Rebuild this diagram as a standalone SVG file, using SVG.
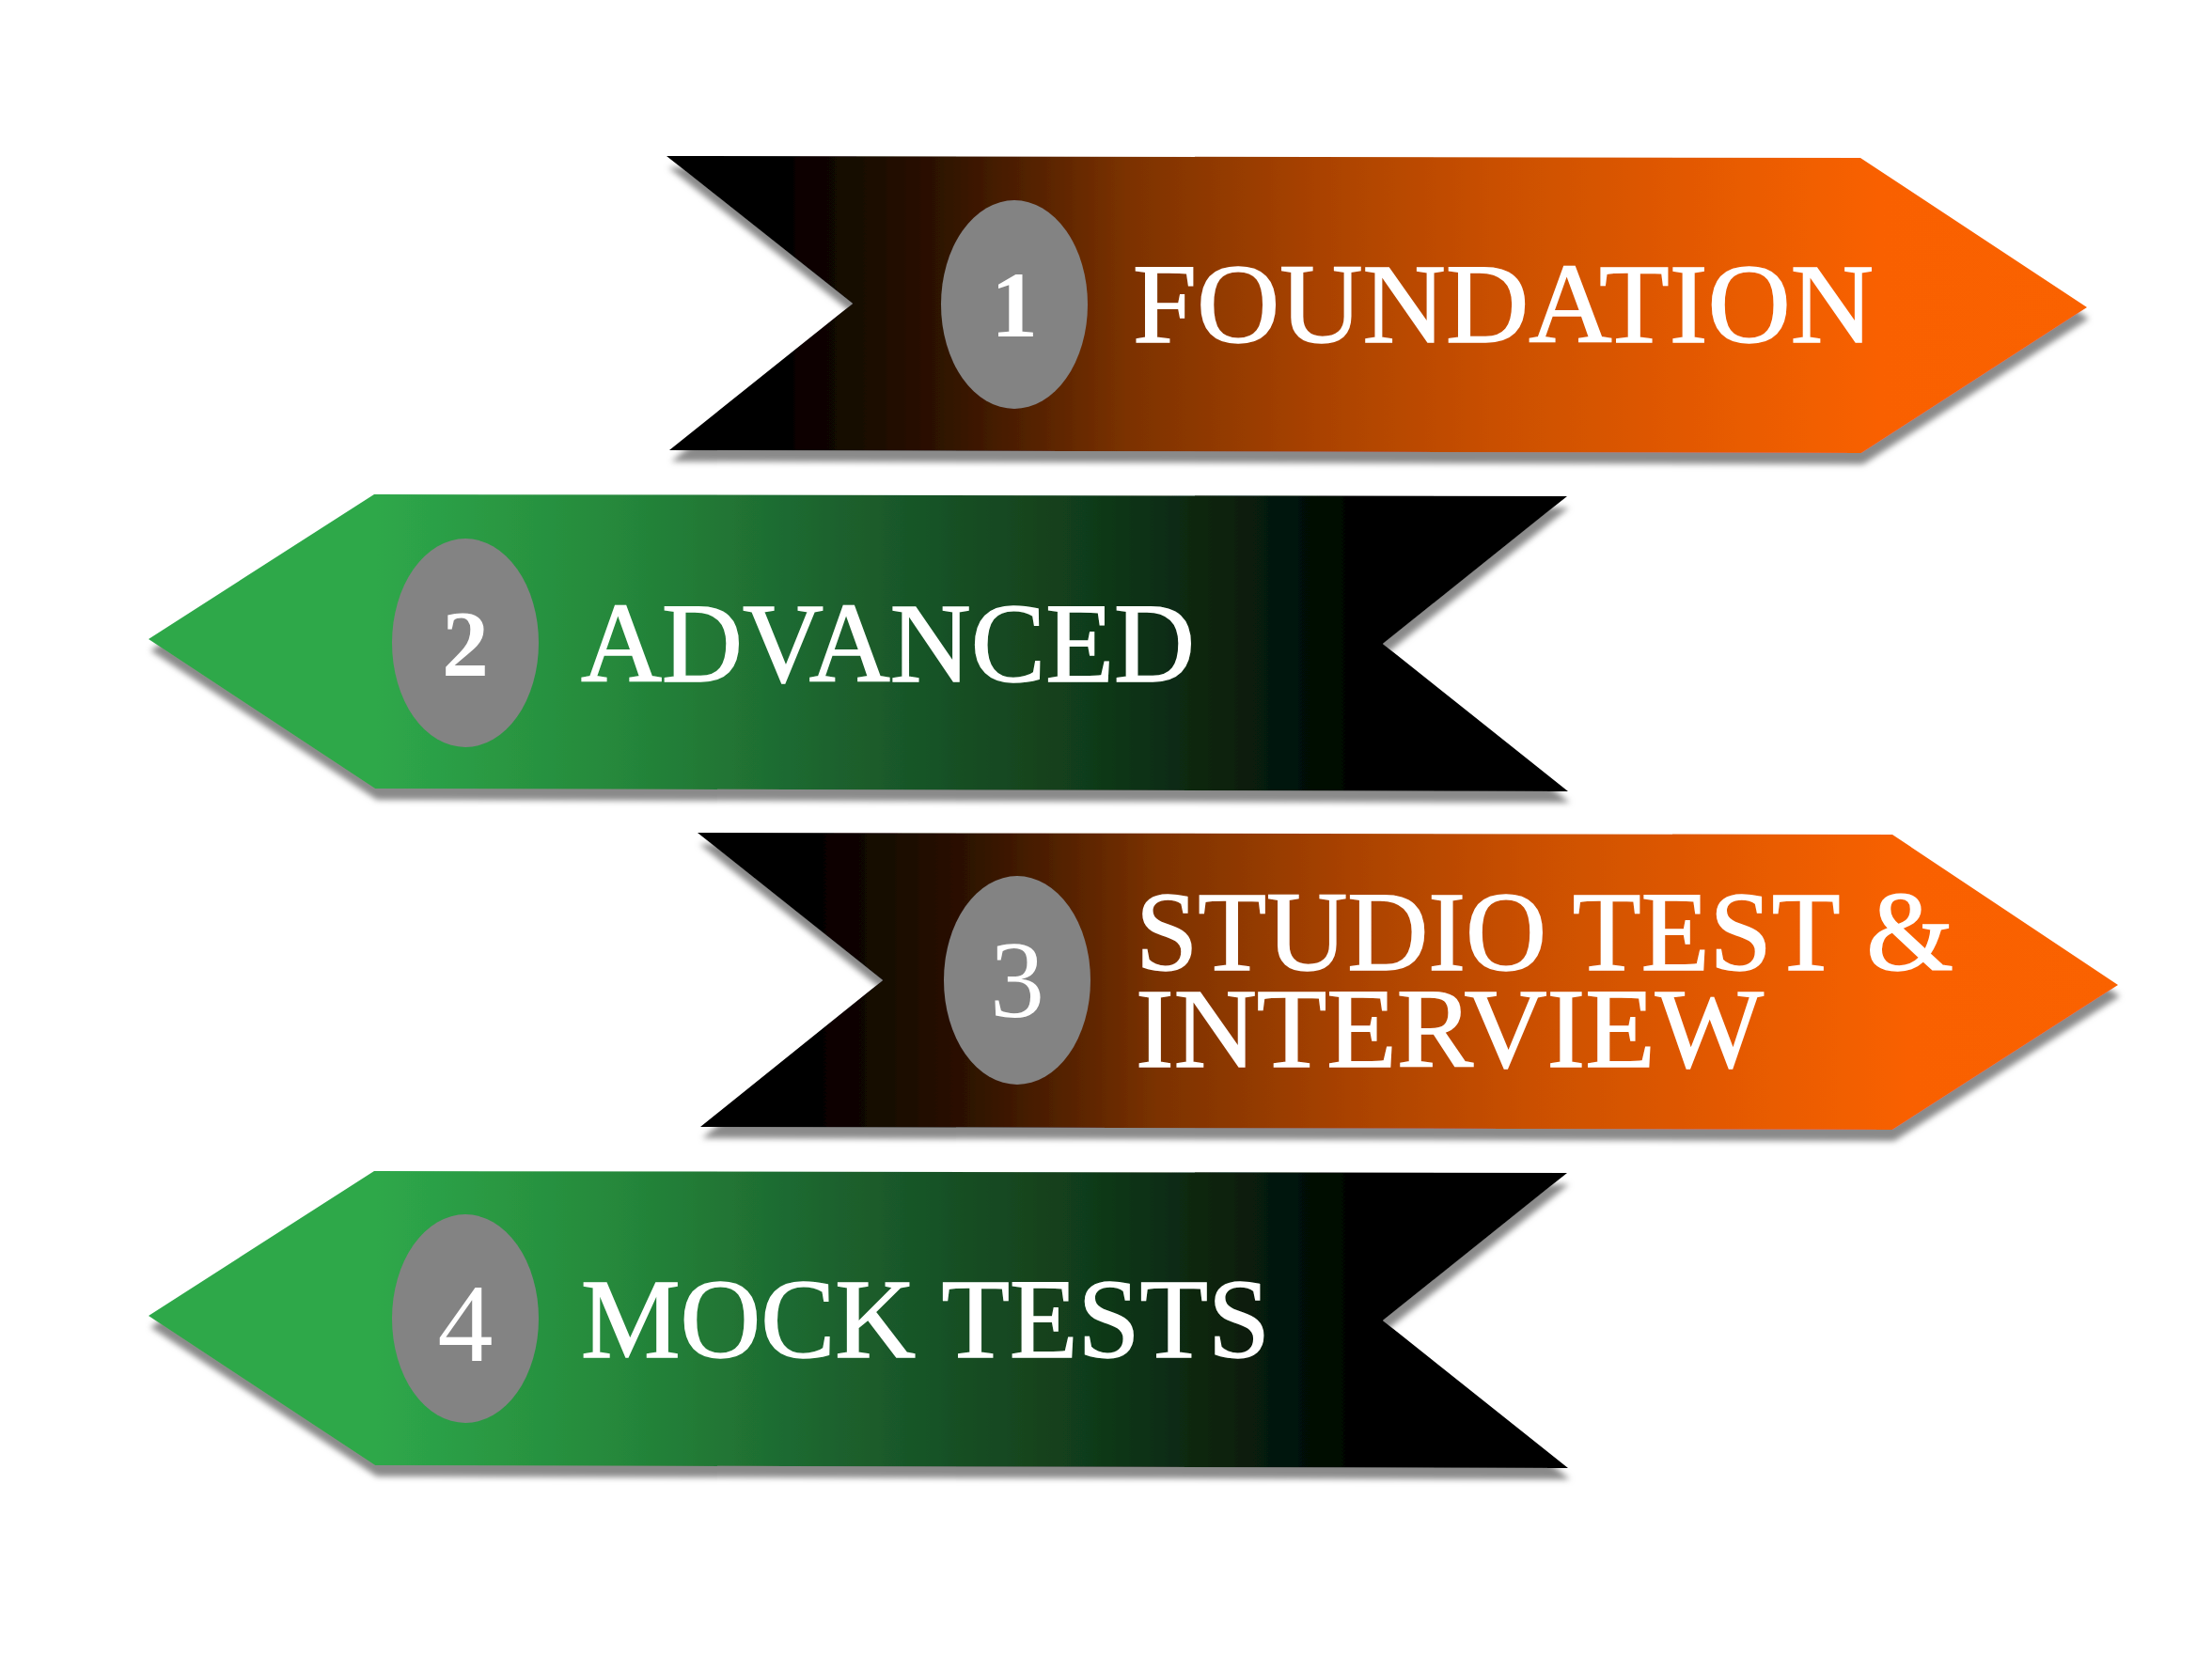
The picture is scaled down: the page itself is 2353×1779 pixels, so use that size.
<svg xmlns="http://www.w3.org/2000/svg" width="2353" height="1779" viewBox="0 0 2353 1779">
<defs>
<linearGradient id="gOrange" x1="0" y1="0" x2="1" y2="0">
<stop offset="0.073" stop-color="#000000"/>
<stop offset="0.193" stop-color="#2e1200"/>
<stop offset="0.325" stop-color="#7c3200"/>
<stop offset="0.457" stop-color="#a94200"/>
<stop offset="0.59" stop-color="#cb5000"/>
<stop offset="0.722" stop-color="#e35900"/>
<stop offset="0.854" stop-color="#f96100"/>
<stop offset="1" stop-color="#fa6200"/>
</linearGradient>
<linearGradient id="gGreen" x1="0" y1="0" x2="1" y2="0">
<stop offset="0.16" stop-color="#2ea84a"/>
<stop offset="0.33" stop-color="#25883b"/>
<stop offset="0.5" stop-color="#1b5e2c"/>
<stop offset="0.66" stop-color="#113c1a"/>
<stop offset="0.79" stop-color="#06190a"/>
<stop offset="0.86" stop-color="#000000"/>
</linearGradient>
<filter id="shadow" x="-5%" y="-10%" width="110%" height="125%">
<feDropShadow dx="2" dy="12" stdDeviation="3" flood-color="#8a8a8a" flood-opacity="1"/>
</filter>
</defs>
<style>
.lbl{font-family:"Liberation Serif","Times New Roman",serif;font-size:120px;fill:#ffffff;stroke:#ffffff;stroke-width:1.5px}
.num{font-family:"Liberation Serif","Times New Roman",serif;fill:#ffffff;text-anchor:middle}
.badge{fill:#838383}
</style>
<rect width="2353" height="1779" fill="#ffffff"/>
<g id="node1">
<polygon points="709,166 1979,168 2220,327 1980,482 712,479 907,323" fill="url(#gOrange)" filter="url(#shadow)"/>
<ellipse class="badge" cx="1079" cy="324" rx="78" ry="111"/>
<text class="num" x="1079" y="358" font-size="100" font-weight="bold">1</text>
<text class="lbl" x="1205" y="364" textLength="788" lengthAdjust="spacingAndGlyphs">FOUNDATION</text>
</g>
<g id="node2">
<polygon points="398,526 1667,528 1471,685 1668,842 399,839 158,680" fill="url(#gGreen)" filter="url(#shadow)"/>
<ellipse class="badge" cx="495" cy="684" rx="78" ry="111"/>
<text class="num" x="495" y="718" font-size="100" font-weight="bold">2</text>
<text class="lbl" x="618" y="725" textLength="653" lengthAdjust="spacingAndGlyphs">ADVANCED</text>
</g>
<g id="node3">
<polygon points="742,886 2013,888 2253,1048 2013,1202 745,1199 939,1043" fill="url(#gOrange)" filter="url(#shadow)"/>
<ellipse class="badge" cx="1082" cy="1043" rx="78" ry="111"/>
<text class="num" x="1082" y="1082" font-size="116">3</text>
<text class="lbl" x="1208" y="1032" textLength="870" lengthAdjust="spacingAndGlyphs">STUDIO TEST &amp;</text>
<text class="lbl" x="1208" y="1135" textLength="668" lengthAdjust="spacingAndGlyphs">INTERVIEW</text>
</g>
<g id="node4">
<polygon points="398,1246 1667,1248 1471,1405 1668,1562 399,1559 158,1400" fill="url(#gGreen)" filter="url(#shadow)"/>
<ellipse class="badge" cx="495" cy="1403" rx="78" ry="111"/>
<text class="num" x="495" y="1448" font-size="118">4</text>
<text class="lbl" x="618" y="1444" textLength="733" lengthAdjust="spacingAndGlyphs">MOCK TESTS</text>
</g>
</svg>
